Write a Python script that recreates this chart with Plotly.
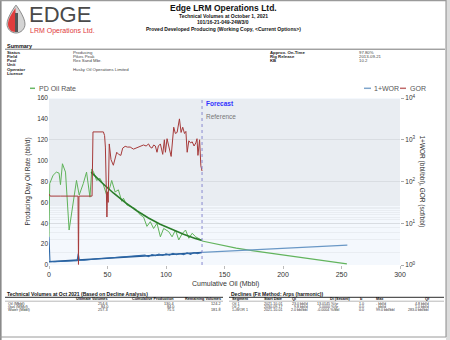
import plotly.graph_objects as go

# ---------------- data ----------------
oil_hist_cum = [0.0, 0.6, 3.5, 6.3, 8.6, 9.8, 11.5, 14.1, 17.2, 20.6, 23.5, 25.8, 29.3, 32.1, 35.0, 36.6,
                38.5, 40.7, 43.6, 46.4, 49.3, 52.2, 53.6, 56.5, 59.3, 62.2, 63.6, 66.5, 69.4, 73.7, 78.0,
                80.8, 83.7, 86.6, 89.4, 92.3, 95.2, 98.0, 102.3, 105.2, 108.1, 110.9, 113.8, 116.7,
                119.5, 122.4, 125.3, 128.1, 130.4]
oil_hist_rate = [27, 78, 86, 89, 88, 77, 97, 89, 33.5, 59, 81, 67, 78, 89, 65, 92,
                 88, 81, 83, 77, 67, 75, 81, 70, 72, 61, 64, 57.5, 56, 54, 48,
                 46, 37, 41.5, 35, 40, 27, 35, 32, 27, 33.5, 24, 30, 33.5,
                 25.6, 30.4, 27, 25.6, 23.9]
oil_fit_cum = [36, 45, 55, 65, 75, 85, 95, 105, 115, 125, 130.8]
oil_fit_rate = [89, 79, 69, 60, 52, 45, 39, 34, 29.5, 25.5, 23.5]
oil_fc_cum = [130.8, 145, 160, 175, 190, 200, 228, 254.6]
oil_fc_rate = [23.0, 19.3, 16.1, 13.5, 11.2, 9.9, 5.2, 1.0]

wor_hist_cum = [0, 0.8, 5, 10, 15, 20, 24, 25, 26, 30, 36, 42, 48, 54, 60, 66, 72, 78, 82, 85, 88,
                91, 94, 97, 100, 103, 106, 109, 112, 115, 118, 121, 124, 127, 130.4]
wor_hist_val = [4.73, 1.223, 1.202, 1.216, 1.230, 1.245, 1.259, 1.884, 1.296, 1.303, 1.373, 1.413,
                1.454, 1.496, 1.514, 1.567, 1.585, 1.631, 1.727, 1.585, 1.778, 1.679, 1.830, 1.698,
                1.862, 1.727, 1.905, 1.758, 1.884, 1.778, 1.941, 1.799, 1.995, 1.862, 2.018]
wor_fit_cum = [0, 130.8]
wor_fit_val = [1.20, 2.00]
wor_fc_cum = [130.8, 255]
wor_fc_val = [2.0, 3.0]

gor_cum = [0, 1, 10, 20, 24.8, 25.2, 25.6, 36.8, 37.6, 46.5, 47.5, 48.2, 49.5, 50.0, 50.6, 51.5, 53,
           55, 57.9, 59.5, 61.4, 63, 65.1, 67, 69.4, 72.2, 74, 76.5, 78.5, 80.8, 83, 85.1, 86.5, 88,
           89.5, 90.9, 92.3, 93.5, 95.2, 96.2, 97.2, 98.6, 99.5, 100.9, 102.5, 104.4, 106.6, 108,
           109.5, 111.5, 112.9, 114.3, 115.8, 117, 118.1, 119.5, 121, 122.4, 124, 125.5, 126.5,
           127.3, 128.7, 129.2, 129.8, 130.8]
gor_val = [50.1, 44.7, 44.7, 44.7, 44.7, 1.03, 44.7, 44.7, 1540, 1540, 1259, 668, 14.1, 56.2, 31.6,
           794, 335, 245, 501, 447, 422, 631, 696, 668, 668, 596, 631, 668, 708, 750, 708, 794, 668,
           631, 750, 708, 501, 708, 794, 562, 447, 1000, 501, 1059, 668, 398, 1995, 1413, 1496,
           3162, 1496, 1995, 1413, 1585, 501, 944, 841, 891, 708, 841, 1059, 422, 1000, 282, 237, 178]

forecast_start = 130.8

x_tickvals = [0, 50, 100, 150, 200, 250, 300]
y_tickvals = [0, 20, 40, 60, 80, 100, 120, 140, 160]
y2_tickvals = [1, 10, 100, 1000, 10000]
y2_ticktext = ["10<sup>0</sup>", "10<sup>1</sup>", "10<sup>2</sup>", "10<sup>3</sup>", "10<sup>4</sup>"]

header_lines = ["Technical Volumes at October 1, 2021", "101/16-21-049-24W3/0",
                "Proved Developed Producing (Working Copy, &lt;Current Options&gt;)"]
summary_labels = ["Status", "Field", "Pool", "Unit", "Operator", "Licence"]
summary_values = ["Producing", "Pikes Peak", "Rex Sand Mbr.", "", "Husky Oil Operations Limited", ""]
summary_labels_r = ["Approx. On-Time", "Rig Release", "KB"]
summary_values_r = ["97.80%", "2013-09-21", "10.2"]

vol_header = ["Ultimate Volumes", "Cumulative Production", "Remaining Volumes"]
vol_rows = ["Oil (Mbbl)", "Gas (MMcf)", "Water (Mbbl)"]
vol_ultimate = ["254.6", "84.0", "257.3"]
vol_cumulative = ["130.4", "84.0", "75.5"]
vol_remaining = ["124.2", "-", "181.8"]

dec_header = ["Segment", "Start Date", "Qi", "Di (Secant)", "b", "Max", "Qf"]
dec_rows = [
    ["Oil 1", "2021-10-01", "23.0 bbl/d", "13.0145 %/yr", "1.0", "- bbl/d", "4.8 bbl/d"],
    ["Oil 2", "2030-09-17", "9.8 bbl/d", "5.0000 %/yr", "0.0", "- bbl/d", "1.0 bbl/d"],
    ["1+WOR 1", "2021-10-01", "2.0 bbl/bbl", "-0.0004 %/bbl", "0.0", "99.0 bbl/bbl", "283.0 bbl/bbl"],
]

# ---------------- layout helpers ----------------
W, H = 450, 340
L, R, T, B = 49, 400, 98, 265
FONT = "Liberation Sans, Arial, sans-serif"


def xp(px):
    return (px - L) / (R - L)


def yp(py):
    return (B - py) / (B - T)


annotations = []
shapes = []


def text(s, px, py, size, color="#222", bold=False, xanchor="left", angle=0):
    if not s:
        return
    if bold:
        s = "<b>" + s + "</b>"
    annotations.append(dict(text=s, x=xp(px), y=yp(py), xref="paper", yref="paper",
                            xanchor=xanchor, yanchor="middle", showarrow=False, textangle=angle,
                            font=dict(family=FONT, size=size, color=color)))


def hline(x0, x1, py, color="#777", width=1):
    shapes.append(dict(type="line", xref="paper", yref="paper", x0=xp(x0), x1=xp(x1),
                       y0=yp(py), y1=yp(py), line=dict(color=color, width=width)))


def vline(px, y0, y1, color="#777", width=1):
    shapes.append(dict(type="line", xref="paper", yref="paper", x0=xp(px), x1=xp(px),
                       y0=yp(y0), y1=yp(y1), line=dict(color=color, width=width)))


def path(pts_str, fill, line_color="rgba(0,0,0,0)", width=0):
    shapes.append(dict(type="path", xref="paper", yref="paper", path=pts_str,
                       fillcolor=fill, line=dict(color=line_color, width=width)))


def P(px, py):
    return f"{xp(px):.5f},{yp(py):.5f}"


# ---------------- traces ----------------
fig = go.Figure()
fig.add_trace(go.Scatter(x=oil_hist_cum, y=oil_hist_rate, mode="lines",
                         line=dict(color="#5fb35a", width=1), name="PD Oil Rate"))
fig.add_trace(go.Scatter(x=oil_fit_cum, y=oil_fit_rate, mode="lines",
                         line=dict(color="#2a7d2a", width=1.6), showlegend=False))
fig.add_trace(go.Scatter(x=oil_fc_cum, y=oil_fc_rate, mode="lines",
                         line=dict(color="#62b45d", width=1.2), showlegend=False))
fig.add_trace(go.Scatter(x=wor_fit_cum, y=wor_fit_val, mode="lines", yaxis="y2",
                         line=dict(color="#245a96", width=1.4), showlegend=False))
fig.add_trace(go.Scatter(x=wor_hist_cum, y=wor_hist_val, mode="lines", yaxis="y2",
                         line=dict(color="#2d68a8", width=1.1), name="1+WOR"))
fig.add_trace(go.Scatter(x=wor_fc_cum, y=wor_fc_val, mode="lines", yaxis="y2",
                         line=dict(color="#6a98c6", width=1.3), showlegend=False))
fig.add_trace(go.Scatter(x=gor_cum, y=gor_val, mode="lines", yaxis="y2",
                         line=dict(color="#a63a3a", width=1), name="GOR"))

# forecast start line
shapes.append(dict(type="line", xref="x", yref="paper", x0=forecast_start, x1=forecast_start,
                   y0=0, y1=1, line=dict(color="#8a8ad0", width=1, dash="dot")))
fx = L + (forecast_start / 300) * (R - L)
text("Forecast", fx + 2, 103.5, 6.5, "#3030ff", bold=True)
text("Reference", fx + 2, 116, 6.5, "#777")

# legends
hline(30, 35, 88.3, "#6ab866", 1.5)
text("PD Oil Rate", 37, 88.3, 7, "#555")
hline(364, 371, 88.3, "#7fa6cc", 1.5)
text("1+WOR", 372, 88.3, 7, "#555")
hline(400, 406, 88.3, "#c06a6a", 1.5)
text("GOR", 408, 88.3, 7, "#555")

# axis titles
text("Producing Day Oil Rate (bbl/d)", 27, 181.5, 6.5, "#333", angle=-90, xanchor="center")
text("1+WOR (bbl/bbl), GOR (scf/bbl)", 422, 181.5, 6.5, "#333", angle=90, xanchor="center")
text("Cumulative Oil (Mbbl)", 225, 284, 7, "#333", xanchor="center")

# ---------------- page furniture ----------------
shapes.append(dict(type="rect", xref="paper", yref="paper", x0=xp(446), x1=xp(452), y0=yp(-2),
                   y1=yp(342), fillcolor="#dcdcdc", line=dict(width=0)))
vline(446, 0, 337, "#8a8a8a", 1)
vline(0.8, 0, 340, "#8a8a8a", 1.6)
hline(0, 446, 0.6, "#9a9a9a", 1.2)
hline(0, 446, 337, "#9a9a9a", 1)

# logo drop
drop = ("M " + P(16, 5) + " C " + P(16, 5) + " " + P(7, 17) + " " + P(7, 24) +
        " C " + P(7, 29) + " " + P(11, 33) + " " + P(16, 33) +
        " C " + P(21, 33) + " " + P(25, 29) + " " + P(25, 24) +
        " C " + P(25, 17) + " " + P(16, 5) + " " + P(16, 5) + " Z")
path(drop, "#d4d4d4", "#8a8a8a", 1)
half = ("M " + P(15.5, 8) + " C " + P(12, 13) + " " + P(8, 19) + " " + P(8, 24) +
        " C " + P(8, 28.5) + " " + P(11, 32) + " " + P(15.5, 32) + " Z")
path(half, "#e03c3c")
path("M " + P(15, 13) + " L " + P(18, 13) + " L " + P(18, 32) + " L " + P(15, 32) + " Z", "#555")
text("EDGE", 27, 14, 22, "#4a4a4a")
text("LRM Operations Ltd.", 28, 30.5, 7, "#e0383b")

# header titles
text("Edge LRM Operations Ltd.", 223, 7.5, 8.5, "#111", bold=True, xanchor="center")
for i, s in enumerate(header_lines):
    text(s, 223, 16 + i * 6.4, 5, "#111", bold=True, xanchor="center")

# summary
text("Summary", 5, 46, 5.5, "#111", bold=True)
hline(5, 445, 49.2, "#777", 1)
for i, (lab, val) in enumerate(zip(summary_labels, summary_values)):
    yy = 52 + i * 4.3
    text(lab, 5, yy, 4.3, "#222", bold=True)
    text(val, 71, yy, 4.3, "#444")
for i, (lab, val) in enumerate(zip(summary_labels_r, summary_values_r)):
    yy = 52 + i * 4.3
    text(lab, 268, yy, 4.3, "#222", bold=True)
    text(val, 357, yy, 4.3, "#444")

# technical volumes table
text("Technical Volumes at Oct 2021 (Based on Decline Analysis)", 5, 294, 5, "#111", bold=True)
hline(5, 223, 297.3, "#555", 1.2)
for s, xr in zip(vol_header, [110, 176, 222.5]):
    text(s, xr, 299.4, 3.8, "#111", bold=True, xanchor="right")
hline(5, 223, 301.2, "#888", 0.6)
for i, lab in enumerate(vol_rows):
    yy = 303.5 + i * 3.4
    text(lab, 6, yy, 3.8, "#333")
    text(vol_ultimate[i], 110, yy, 3.8, "#333", xanchor="right")
    text(vol_cumulative[i], 176, yy, 3.8, "#333", xanchor="right")
    text(vol_remaining[i], 222.5, yy, 3.8, "#333", xanchor="right")

# declines table
text("Declines (Fit Method: Arps (harmonic))", 229, 294, 5, "#111", bold=True)
hline(229, 444, 297.3, "#555", 1.2)
dec_x = [230, 262, 310, 341, 361, 374, 431]
dec_anchor = ["left", "left", "right", "right", "center", "left", "right"]
dec_hx = [230, 262, 294, 328, 361, 374, 427]
dec_hanchor = ["left", "left", "center", "left", "center", "left", "center"]
for s, xx, an in zip(dec_header, dec_hx, dec_hanchor):
    text(s, xx, 299.4, 3.8, "#111", bold=True, xanchor=an)
hline(229, 444, 301.2, "#888", 0.6)
for i, row in enumerate(dec_rows):
    yy = 303.5 + i * 3.4
    for s, xx, an in zip(row, dec_x, dec_anchor):
        text(s, xx, yy, 3.6, "#333", xanchor=an)

# ---------------- layout ----------------
fig.update_layout(
    width=W, height=H,
    margin=dict(l=L, r=W - R, t=T, b=H - B, pad=0),
    paper_bgcolor="white",
    plot_bgcolor="#f4f8fd",
    showlegend=False,
    font=dict(family=FONT, size=7, color="#333"),
    xaxis=dict(range=[0, 300], tickvals=x_tickvals, showgrid=False, zeroline=False,
               ticks="outside", ticklen=3, tickcolor="#bbb", showline=False,
               tickfont=dict(size=7, color="#333")),
    yaxis=dict(range=[0, 160], tickvals=y_tickvals, showgrid=False, zeroline=False,
               ticks="", showline=False, tickfont=dict(size=6.5, color="#333")),
    yaxis2=dict(type="log", range=[0, 4], overlaying="y", side="right",
                tickvals=y2_tickvals, ticktext=y2_ticktext, showgrid=True,
                gridcolor="#d9dde2", gridwidth=1, zeroline=False, ticks="outside",
                ticklen=3, tickcolor="#aaa", tickfont=dict(size=6.5, color="#333"),
                minor=dict(showgrid=True, gridcolor="#e9edf2", ticks="")),
    annotations=annotations,
    shapes=shapes,
)

fig.write_html("out.html")
